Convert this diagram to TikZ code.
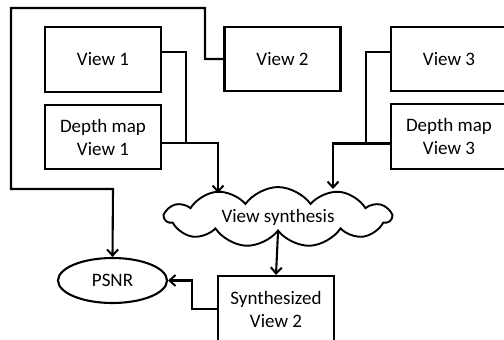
\documentclass[tikz,border=0pt]{standalone}
\usepackage{fontspec}
\setmainfont{Carlito}
\usetikzlibrary{shapes.symbols,shapes.geometric,arrows.meta}
\begin{document}
\begin{tikzpicture}[x=1pt,y=-1pt,
  every node/.style={font=\fontsize{19}{23}\selectfont},
  box/.style={draw,line width=2.1pt,minimum width=116pt,minimum height=65pt,align=center,inner sep=0pt},
  conn/.style={line width=2.1pt},
  arr/.style={conn,-{Straight Barb[length=6pt,width=11pt,line width=2pt]}}]
\useasboundingbox (0,0) rectangle (504,340);
\clip (0,0) rectangle (504,340);
\node[box] (v1) at (103,59.5) {View 1};
\node[box,minimum height=64pt] (d1) at (103,137) {Depth map\\View 1};
\node[box,minimum height=64pt] (v2) at (282.5,59) {View 2};
\node[box,minimum height=64pt] (v3) at (449,59) {View 3};
\node[box,minimum height=65pt] (d3) at (449,136.5) {Depth map\\View 3};
\node[cloud,draw,line width=1.9pt,cloud puffs=11,cloud puff arc=110,aspect=4.2,minimum width=226pt,minimum height=54pt,inner sep=0pt] (cl) at (278,217) {View synthesis};
\node[box,minimum height=66pt] (sv) at (276,309) {Synthesized\\View 2};
\node[draw,ellipse,line width=2.1pt,minimum width=109pt,minimum height=45pt,inner sep=0pt] (ps) at (112.5,280.5) {PSNR};
\coordinate (c1) at (218,193);
\coordinate (c3) at (333,189);
% loop from View 2 to PSNR
\draw[arr] (v2.west) -- (205,59) |- (11,8) |- (113,189) -- (ps.north);
% View 1 and depth 1 to cloud
\draw[conn] ([yshift=7.5pt]v1.east) -| (186,143);
\draw[arr] ([yshift=-6pt]d1.east) -| (c1);
% View 3 and depth 3 to cloud
\draw[conn] ([yshift=7pt]v3.west) -| (366,143.5);
\draw[arr] ([yshift=-7pt]d3.west) -| (c3);
% cloud to synthesized
\draw[arr] (cl.south) -- (sv.north);
% synthesized to PSNR
\draw[arr] (sv.west) -- (192,309) |- (ps.east);
\end{tikzpicture}
\end{document}
